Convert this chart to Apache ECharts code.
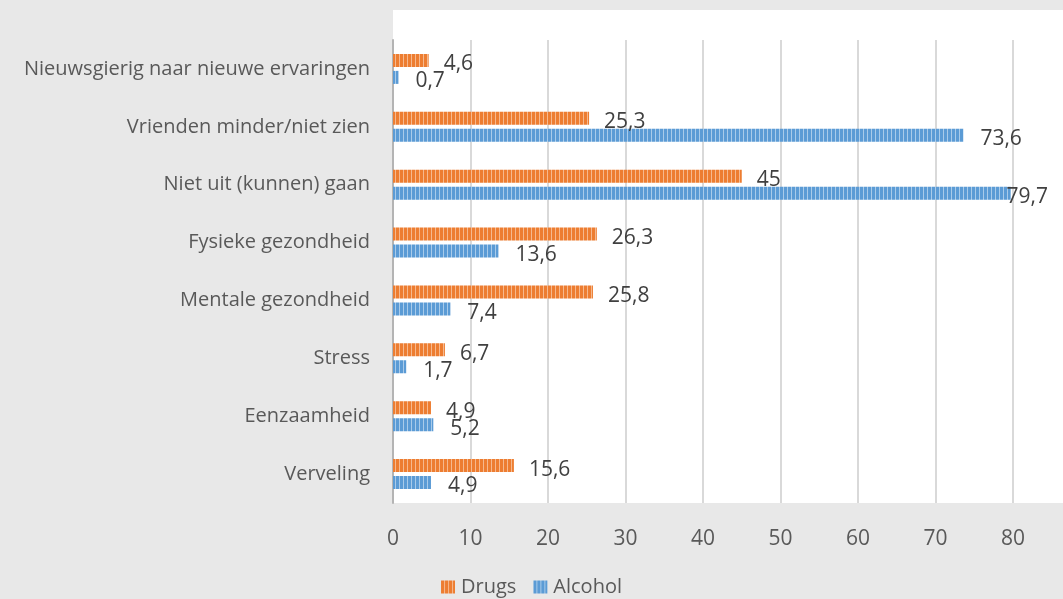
<!DOCTYPE html>
<html>
<head>
<meta charset="utf-8">
<script src="https://cdn.jsdelivr.net/npm/echarts@6/dist/echarts.min.js"></script>
<style>
html,body{margin:0;padding:0;background:#e8e8e8;}
#main{width:1063px;height:599px;}
</style>
</head>
<body>
<div id="main"></div>
<script>
const categories = ['Nieuwsgierig naar nieuwe ervaringen','Vrienden minder/niet zien','Niet uit (kunnen) gaan','Fysieke gezondheid','Mentale gezondheid','Stress','Eenzaamheid','Verveling'];
const drugs = [4.6, 25.3, 45, 26.3, 25.8, 6.7, 4.9, 15.6];
const alcohol = [0.7, 73.6, 79.7, 13.6, 7.4, 1.7, 5.2, 4.9];
const xTicks = [0, 10, 20, 30, 40, 50, 60, 70, 80];

function stripe(dark, light) {
  const c = document.createElement('canvas');
  c.width = 4; c.height = 4;
  const g = c.getContext('2d');
  g.fillStyle = dark; g.fillRect(0, 0, 4, 4);
  g.fillStyle = light; g.fillRect(3, 0, 1, 4);
  return { image: c, repeat: 'repeat' };
}
const orangeFill = stripe('#ED7D31', '#F6B98E');
const blueFill = stripe('#5B9BD5', '#A9CBEA');

const chart = echarts.init(document.getElementById('main'), null, {renderer: 'canvas'});
const labelFont = { fontFamily: 'Open Sans', fontSize: 21, color: '#404040' };
function layoutFor(shiftY) {
  return function (params) {
    const r = params.labelRect;
    const out = { dy: shiftY };
    if (r.x + r.width > 1050) out.dx = 1048 - (r.x + r.width);
    return out;
  };
}
chart.setOption({
  backgroundColor: '#e8e8e8',
  animation: false,
  graphic: [{
    type: 'rect', z: -10, silent: true,
    shape: { x: 393, y: 10, width: 670, height: 493 },
    style: { fill: '#ffffff' }
  }],
  legend: {
    bottom: -3, left: 'center',
    itemWidth: 14, itemHeight: 13, itemGap: 17,
    icon: 'rect',
    textStyle: { fontFamily: 'Open Sans', fontSize: 20, color: '#595959', padding: [0,0,0,1] },
    data: ['Drugs', 'Alcohol']
  },
  grid: { left: 393, right: 50, top: 40, bottom: 96, containLabel: false },
  xAxis: {
    type: 'value', min: 0, max: 80, interval: 10,
    axisLine: { show: false }, axisTick: { show: false },
    splitLine: { show: true, lineStyle: { color: '#d9d9d9', width: 2 } },
    axisLabel: { margin: 26, fontFamily: 'Open Sans', fontSize: 21, color: '#595959',
      formatter: v => xTicks.includes(v) ? String(v) : '' }
  },
  yAxis: {
    type: 'category', data: categories, inverse: true,
    axisLine: { show: true, lineStyle: { color: '#b4b4b4', width: 2 } },
    axisTick: { show: false },
    axisLabel: { margin: 23, fontFamily: 'Open Sans', fontSize: 20, color: '#595959' }
  },
  series: [
    { name: 'Drugs', type: 'bar', data: drugs, barWidth: 13, barGap: '30%',
      itemStyle: { color: orangeFill },
      label: Object.assign({ show: true, position: 'right', distance: 15,
        formatter: p => String(p.value).replace('.', ',') }, labelFont),
      labelLayout: layoutFor(4) },
    { name: 'Alcohol', type: 'bar', data: alcohol, barWidth: 13, barGap: '30%',
      itemStyle: { color: blueFill },
      label: Object.assign({ show: true, position: 'right', distance: 17,
        formatter: p => String(p.value).replace('.', ',') }, labelFont),
      labelLayout: layoutFor(4) }
  ]
});
</script>
</body>
</html>
